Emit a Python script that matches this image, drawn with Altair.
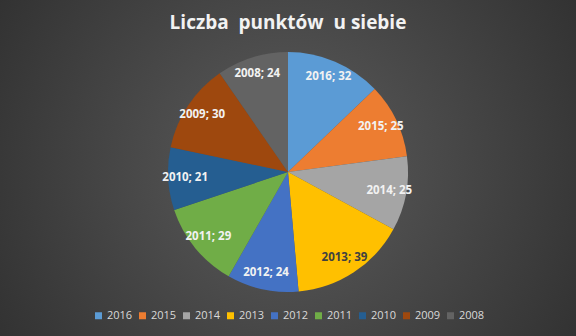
import altair as alt
import pandas as pd

years = ["2016", "2015", "2014", "2013", "2012", "2011", "2010", "2009", "2008"]
points = [32, 25, 25, 39, 24, 29, 21, 30, 24]
colors = ["#5B9BD5", "#ED7D31", "#A5A5A5", "#FFC000", "#4472C4",
          "#70AD47", "#255E91", "#9E480E", "#636363"]
title_text = "Liczba\u00a0 punktów\u00a0 u siebie"

df = pd.DataFrame({
    "year": years,
    "value": points,
    "idx": list(range(len(years))),
    "label": [f"{y}; {v}" for y, v in zip(years, points)],
})

W, H = 576, 336
CX, CY, R = 288, 172, 120

bg = alt.Chart(pd.DataFrame({"a": [0]})).mark_rect(
    color=alt.Gradient(
        gradient="radial",
        stops=[alt.GradientStop(color="#5c5c5c", offset=0),
               alt.GradientStop(color="#262626", offset=1)],
        x1=0.5, y1=0.5, r1=0, x2=0.5, y2=0.5, r2=0.75,
    )
).encode(x=alt.value(0), x2=alt.value(W), y=alt.value(0), y2=alt.value(H))

base = alt.Chart(df).encode(
    theta=alt.Theta("value:Q", stack=True),
    order=alt.Order("idx:Q"),
)

pie = base.mark_arc(outerRadius=R).encode(
    x=alt.value(CX), y=alt.value(CY),
    color=alt.Color(
        "year:N",
        scale=alt.Scale(domain=years, range=colors),
        sort=years,
        legend=alt.Legend(
            title=None, orient="none", direction="horizontal", columns=9,
            legendX=93, legendY=310, symbolType="square", symbolSize=49,
            symbolStrokeWidth=0, labelColor="#d9d9d9", labelFontSize=11,
            labelFont="Open Sans", columnPadding=4, labelOffset=3,
        ),
    ),
)

labels = base.mark_text(radius=103, font="Open Sans", fontSize=11.5, fontWeight="bold").encode(
    x=alt.value(CX), y=alt.value(CY),
    text="label:N",
    color=alt.condition(alt.datum.year == "2013", alt.value("#404040"), alt.value("#f2f2f2")),
)

title = alt.Chart(pd.DataFrame({"t": [title_text]})).mark_text(
    font="Open Sans", fontSize=19, fontWeight="bold", color="#f2f2f2"
).encode(x=alt.value(288), y=alt.value(23), text="t:N")

chart = alt.layer(bg, pie, labels, title).properties(
    width=W, height=H, padding=0, autosize=alt.AutoSizeParams(type="none"),
    background="#262626",
).configure_view(stroke=None)

chart.save("out.html", embed_options={"renderer": "svg", "actions": False})
